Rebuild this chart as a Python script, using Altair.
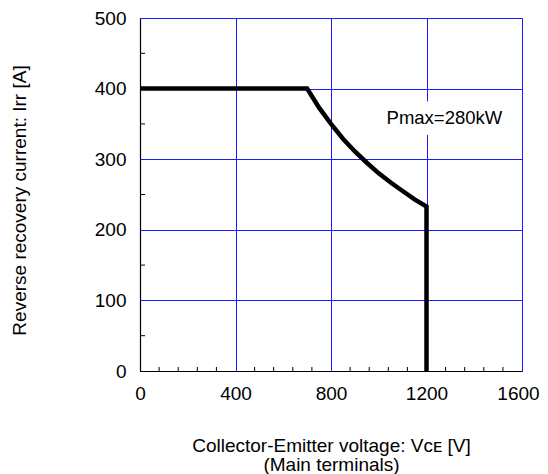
import altair as alt
import pandas as pd

# Safe operating curve
vce = [0, 700, 750, 800, 850, 900, 950, 1000, 1050, 1100, 1150, 1200, 1200]
irr = [400, 400, 373, 350, 329, 311, 295, 280, 267, 255, 243, 233, 0]

x_ticks = [0, 400, 800, 1200, 1600]
y_ticks = [0, 100, 200, 300, 400, 500]
x_minor = [80, 160, 240, 320, 480, 560, 640, 720, 880, 960, 1040, 1120, 1280, 1360, 1440, 1520]
y_minor = [50, 150, 250, 350, 450]

label_text = ["Pmax=280kW"]
label_x = [1275]
label_y = [358]

W, H = 382, 353
FONT = "Liberation Sans"
GRID = "#1a1aff"

curve = pd.DataFrame({"v": vce, "i": irr, "idx": list(range(len(vce)))})
xm = pd.DataFrame({"v": x_minor})
ym = pd.DataFrame({"i": y_minor})
lab = pd.DataFrame({"t": label_text, "v": label_x, "i": label_y})

xscale = alt.Scale(domain=[0, 1600], nice=False)
yscale = alt.Scale(domain=[0, 500], nice=False)

xaxis = alt.Axis(
    values=x_ticks, format="d", grid=True, gridColor=GRID, gridOpacity=1, gridWidth=1,
    ticks=False, domainColor="black", domainWidth=1.2,
    labelFont=FONT, labelFontSize=19, labelColor="black", labelPadding=13,
    labelFlush=False, labelOverlap=False,
    labelOffset={"condition": {"test": "datum.value == 1600", "value": -4}, "value": 0},
    title=["Collector-Emitter voltage: Vᴄᴇ [V]", "(Main terminals)"],
    titleFont=FONT, titleFontSize=19, titleFontWeight="normal", titleColor="black",
    titleLineHeight=19, titleBaseline="alphabetic", titleY=80, titleX=W / 2,
    titleAlign="center",
)
yaxis = alt.Axis(
    values=y_ticks, format="d", grid=True, gridColor=GRID, gridOpacity=1, gridWidth=1,
    ticks=False, domainColor="black", domainWidth=1.2,
    labelFont=FONT, labelFontSize=19, labelColor="black", labelPadding=14,
    labelFlush=False, labelOverlap=False,
    title="Reverse recovery current: Irr [A]",
    titleFont=FONT, titleFontSize=19, titleFontWeight="normal", titleColor="black",
    titleAngle=270, titleBaseline="alphabetic", titleAlign="center",
    titleX=-115, titleY=182,
)

base_line = alt.Chart(curve).mark_line(color="black", strokeWidth=4.5, strokeJoin="miter", strokeCap="butt").encode(
    x=alt.X("v:Q", scale=xscale, axis=xaxis),
    y=alt.Y("i:Q", scale=yscale, axis=yaxis),
    order=alt.Order("idx:Q"),
)

xminor = alt.Chart(xm).mark_rule(color="black", strokeWidth=1).encode(
    x=alt.X("v:Q", scale=xscale),
    y=alt.value(H),
    y2=alt.value(H - 4),
)
yminor = alt.Chart(ym).mark_rule(color="black", strokeWidth=1).encode(
    y=alt.Y("i:Q", scale=yscale),
    x=alt.value(0),
    x2=alt.value(5),
)

bg = alt.Chart(lab).mark_point(
    shape="M-1,-0.27L1,-0.27L1,0.27L-1,0.27Z", filled=True, color="white", opacity=1, size=15376
).encode(
    x=alt.X("v:Q", scale=xscale),
    y=alt.Y("i:Q", scale=yscale),
)
txt = alt.Chart(lab).mark_text(font=FONT, fontSize=18.5, color="black", align="center", baseline="middle").encode(
    x=alt.X("v:Q", scale=xscale),
    y=alt.Y("i:Q", scale=yscale),
    text="t:N",
)

chart = alt.layer(xminor, yminor, bg, txt, base_line).properties(
    width=W, height=H,
    autosize=alt.AutoSizeParams(type="none"),
    padding={"left": 132, "top": 10, "right": 18, "bottom": 103},
).configure_view(stroke="black", strokeWidth=1.2).configure(background="white")

chart.save("out.html", embed_options={"renderer": "svg", "actions": False})
